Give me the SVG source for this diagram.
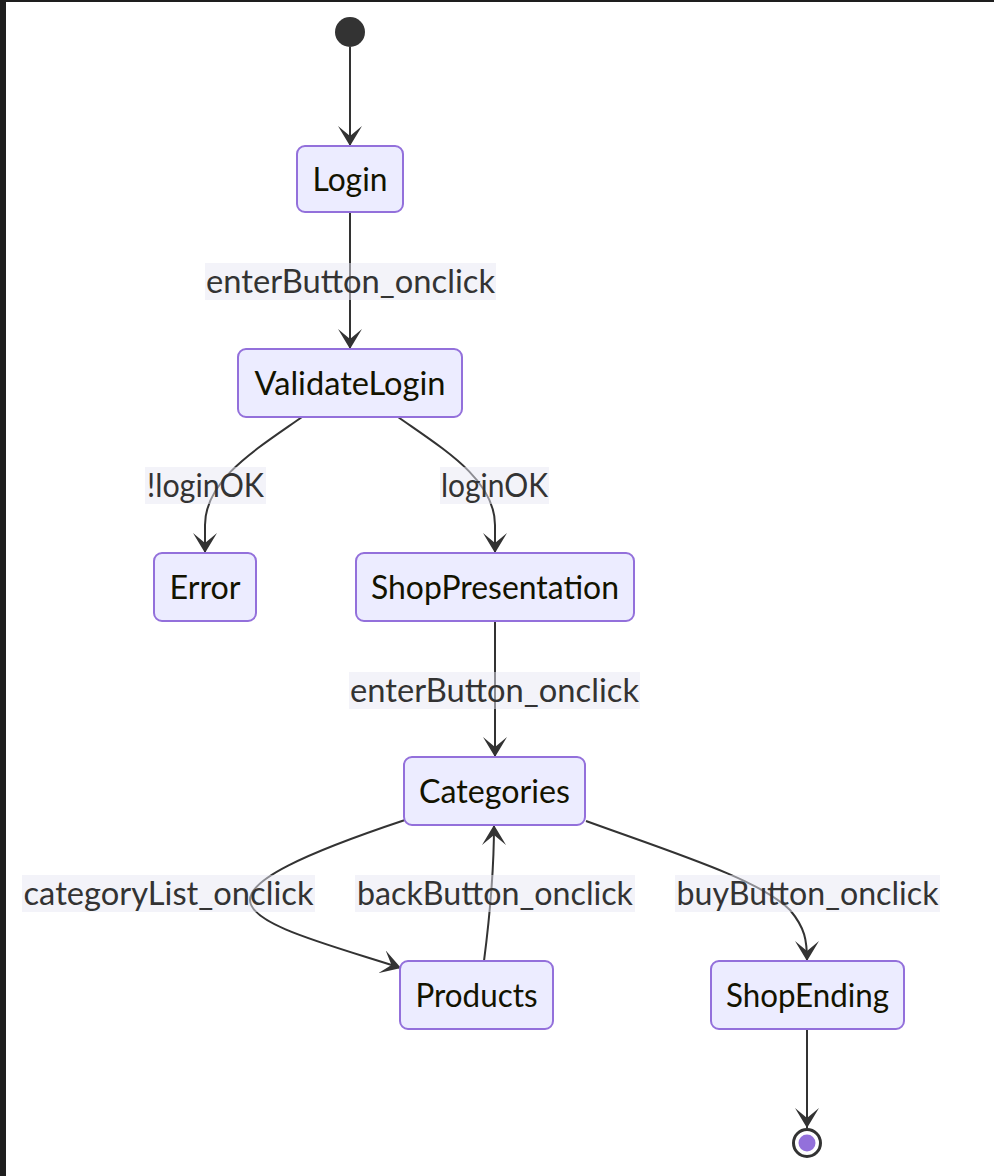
<svg xmlns="http://www.w3.org/2000/svg" width="994" height="1176" viewBox="0 0 994 1176">
<defs>
<style>
.node rect{fill:#ECECFF;stroke:#9370DB;stroke-width:2}
.node text{font-family:Lato,"Liberation Sans",sans-serif;font-size:32px;fill:#131300;text-anchor:middle}
.edge{fill:none;stroke:#333;stroke-width:2}
.lbl rect{fill:#e8e8f4;opacity:0.5}
.lbl text{font-family:Lato,"Liberation Sans",sans-serif;font-size:32px;fill:#333;text-anchor:middle}
</style>
<marker id="barb" viewBox="0 0 20 24" refX="20" refY="12" markerWidth="20" markerHeight="24" markerUnits="userSpaceOnUse" orient="auto">
<path d="M20,12 L0,24 L10,12 L0,0 Z" fill="#333"/>
</marker>
</defs>
<rect x="0" y="0" width="994" height="1176" fill="#fff"/>
<rect x="0" y="0" width="6" height="1176" fill="#1e1e1e"/>
<rect x="0" y="0" width="994" height="2" fill="#1e1e1e"/>

<g id="connectors">
<path class="edge" d="M350,47 L350,146" marker-end="url(#barb)"/>
<path class="edge" d="M350,212 L350,349" marker-end="url(#barb)"/>
<path class="edge" d="M302,417 C255,450 205,480 205,525 L205,553" marker-end="url(#barb)"/>
<path class="edge" d="M398,417 C445,450 495,480 495,525 L495,553" marker-end="url(#barb)"/>
<path class="edge" d="M495,621 L495,757" marker-end="url(#barb)"/>
<path class="edge" d="M405,820 C300,855 250,880 250,900 C250,925 330,945 401,968" marker-end="url(#barb)"/>
<path class="edge" d="M484,961 C488,930 494,880 494,825" marker-end="url(#barb)"/>
<path class="edge" d="M586,821 C680,855 760,880 790,910 C805,928 807,940 807,961" marker-end="url(#barb)"/>
<path class="edge" d="M807,1029 L807,1128" marker-end="url(#barb)"/>
</g>

<g id="labels">
<g class="lbl"><rect x="205" y="263" width="291" height="37"/><text x="350.5" y="293" textLength="289" lengthAdjust="spacingAndGlyphs">enterButton_onclick</text></g>
<g class="lbl"><rect x="145" y="467" width="121" height="37"/><text x="205.5" y="497" textLength="117" lengthAdjust="spacingAndGlyphs">!loginOK</text></g>
<g class="lbl"><rect x="440" y="467" width="109" height="37"/><text x="494.5" y="497" textLength="107" lengthAdjust="spacingAndGlyphs">loginOK</text></g>
<g class="lbl"><rect x="349" y="672" width="291" height="37"/><text x="494.5" y="702" textLength="289" lengthAdjust="spacingAndGlyphs">enterButton_onclick</text></g>
<g class="lbl"><rect x="22" y="875" width="293" height="37"/><text x="168.5" y="905" textLength="290" lengthAdjust="spacingAndGlyphs">categoryList_onclick</text></g>
<g class="lbl"><rect x="355" y="875" width="280" height="37"/><text x="495" y="905" textLength="276" lengthAdjust="spacingAndGlyphs">backButton_onclick</text></g>
<g class="lbl"><rect x="675" y="875" width="265" height="37"/><text x="807.5" y="905" textLength="262" lengthAdjust="spacingAndGlyphs">buyButton_onclick</text></g>
</g>

<g id="start"><circle cx="350" cy="32" r="15" fill="#333"/></g>
<g id="Login" class="node"><rect x="297" y="146" width="106" height="66" rx="8"/><text x="350" y="191" textLength="75" lengthAdjust="spacingAndGlyphs">Login</text></g>
<g id="ValidateLogin" class="node"><rect x="238" y="349" width="224" height="68" rx="8"/><text x="350" y="395" textLength="191" lengthAdjust="spacingAndGlyphs">ValidateLogin</text></g>
<g id="Error" class="node"><rect x="154" y="553" width="102" height="68" rx="8"/><text x="205" y="599" textLength="71" lengthAdjust="spacingAndGlyphs">Error</text></g>
<g id="ShopPresentation" class="node"><rect x="356" y="553" width="278" height="68" rx="8"/><text x="495" y="599" textLength="248" lengthAdjust="spacingAndGlyphs">ShopPresentation</text></g>
<g id="Categories" class="node"><rect x="404" y="757" width="181" height="68" rx="8"/><text x="494.5" y="803" textLength="151" lengthAdjust="spacingAndGlyphs">Categories</text></g>
<g id="Products" class="node"><rect x="400" y="961" width="153" height="68" rx="8"/><text x="476.5" y="1007" textLength="122" lengthAdjust="spacingAndGlyphs">Products</text></g>
<g id="ShopEnding" class="node"><rect x="711" y="961" width="193" height="68" rx="8"/><text x="807.5" y="1007" textLength="163" lengthAdjust="spacingAndGlyphs">ShopEnding</text></g>
<g id="end"><circle cx="807" cy="1143" r="13.5" fill="#fff" stroke="#333" stroke-width="3"/><circle cx="807" cy="1143" r="8.5" fill="#9370DB"/></g>
</svg>
